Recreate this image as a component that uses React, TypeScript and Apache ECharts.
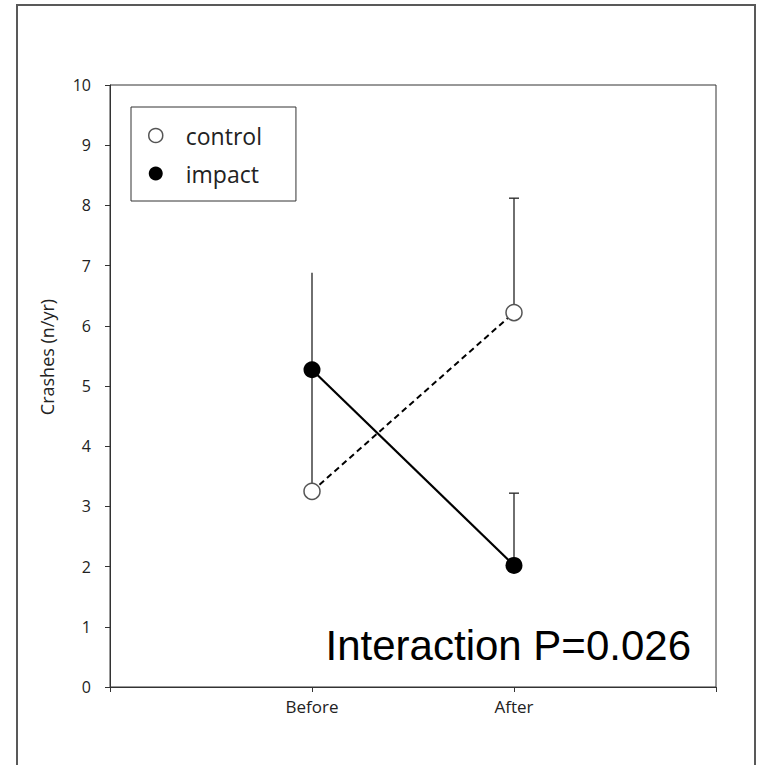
import React, { useEffect, useRef } from "react";
import * as echarts from "echarts";

// Category slots: empty slots at either end keep Before/After at 1/3 and 2/3 of the axis
const categories = ["", "Before", "After", ""];
const yTicks = [0, 1, 2, 3, 4, 5, 6, 7, 8, 9, 10];

// Mean crashes per year
const controlMean = [null, 3.25, 6.22, null];
const impactMean = [null, 5.27, 2.02, null];

// Upper ends of the error bars
const controlUpper = [null, 5.27, 8.12, null];
const impactUpper = [null, 6.88, 3.22, null];

// Whether the error bar carries an end cap
const controlCap = [0, 0, 1, 0];
const impactCap = [0, 0, 1, 0];

const annotation = "Interaction P=0.026";
const yTitle = "Crashes (n/yr)";

const FONT = "'Open Sans', sans-serif";

function errorData(mean: (number | null)[], upper: (number | null)[], cap: number[]) {
  const out: number[][] = [];
  mean.forEach((m, i) => {
    const u = upper[i];
    if (m != null && u != null) out.push([i, m, u, cap[i]]);
  });
  return out;
}

const renderErrorBar = (params: any, api: any) => {
  const idx = api.value(0);
  const lo = api.coord([idx, api.value(1)]);
  const hi = api.coord([idx, api.value(2)]);
  const children: any[] = [
    {
      type: "line",
      shape: { x1: lo[0], y1: lo[1], x2: hi[0], y2: hi[1] },
      style: { stroke: "#222", lineWidth: 1.3 },
    },
  ];
  if (api.value(3)) {
    children.push({
      type: "line",
      shape: { x1: hi[0] - 5, y1: hi[1], x2: hi[0] + 5, y2: hi[1] },
      style: { stroke: "#222", lineWidth: 1.3 },
    });
  }
  return { type: "group", children };
};

export default function App() {
  const ref = useRef<HTMLDivElement>(null);

  useEffect(() => {
    if (!ref.current) return;
    const chart = echarts.init(ref.current, undefined, { renderer: "svg" });

    chart.setOption({
      animation: false,
      backgroundColor: "#fff",
      grid: {
        left: 110,
        top: 85,
        width: 606,
        height: 602,
        show: true,
        borderColor: "#333",
        borderWidth: 1,
      },
      xAxis: {
        type: "category",
        data: categories,
        boundaryGap: false,
        axisLine: { lineStyle: { color: "#333", width: 1 } },
        axisTick: { inside: false, length: 5, lineStyle: { color: "#333" } },
        axisLabel: {
          interval: 0,
          margin: 11,
          color: "#222",
          fontFamily: FONT,
          fontSize: 17,
        },
        splitLine: { show: false },
      },
      yAxis: {
        type: "value",
        min: yTicks[0],
        max: yTicks[yTicks.length - 1],
        interval: 1,
        axisLine: { show: true, lineStyle: { color: "#333", width: 1 } },
        axisTick: { show: true, inside: false, length: 5, lineStyle: { color: "#333" } },
        axisLabel: {
          margin: 19,
          color: "#222",
          fontFamily: FONT,
          fontSize: 16,
        },
        splitLine: { show: false },
      },
      legend: {
        orient: "vertical",
        left: 131,
        top: 107,
        padding: [16, 34, 15, 17],
        itemGap: 13,
        itemWidth: 14,
        itemHeight: 14,
        borderColor: "#333",
        borderWidth: 1,
        backgroundColor: "#fff",
        textStyle: {
          fontFamily: FONT,
          fontSize: 23,
          color: "#222",
          lineHeight: 25,
          padding: [0, 0, 0, 18],
        },
        data: [
          {
            name: "control",
            icon: "circle",
            itemStyle: { color: "#fff", borderColor: "#555", borderWidth: 1.5 },
          },
          { name: "impact", icon: "circle", itemStyle: { color: "#000" } },
        ],
      },
      graphic: [
        {
          type: "rect",
          silent: true,
          shape: { x: 17, y: 5, width: 738, height: 800 },
          style: { fill: "none", stroke: "#595959", lineWidth: 2 },
        },
        {
          type: "text",
          x: 47,
          y: 357,
          rotation: Math.PI / 2,
          style: {
            text: yTitle,
            fontFamily: FONT,
            fontSize: 18,
            fill: "#222",
            align: "center",
            verticalAlign: "middle",
          },
        },
        {
          type: "text",
          x: 691,
          y: 645,
          z: 10,
          style: {
            text: annotation,
            fontFamily: "'Liberation Sans', Arial, sans-serif",
            fontSize: 42,
            fill: "#000",
            align: "right",
            verticalAlign: "middle",
          },
        },
      ],
      series: [
        {
          type: "custom",
          name: "control-err",
          renderItem: renderErrorBar,
          data: errorData(controlMean, controlUpper, controlCap),
          encode: { x: 0, y: [1, 2] },
          z: 1,
          silent: true,
        },
        {
          type: "custom",
          name: "impact-err",
          renderItem: renderErrorBar,
          data: errorData(impactMean, impactUpper, impactCap),
          encode: { x: 0, y: [1, 2] },
          z: 1,
          silent: true,
        },
        {
          type: "line",
          name: "control",
          data: controlMean,
          symbol: "circle",
          symbolSize: 16,
          itemStyle: { color: "#fff", borderColor: "#555", borderWidth: 1.5 },
          lineStyle: { color: "#000", width: 2, type: [6, 4] },
          z: 3,
        },
        {
          type: "line",
          name: "impact",
          data: impactMean,
          symbol: "circle",
          symbolSize: 17,
          itemStyle: { color: "#000" },
          lineStyle: { color: "#000", width: 2.2 },
          z: 4,
        },
      ],
    });

    return () => chart.dispose();
  }, []);

  return (
    <div
      ref={ref}
      style={{ position: "absolute", left: 0, top: 0, width: 757, height: 765 }}
    />
  );
}
